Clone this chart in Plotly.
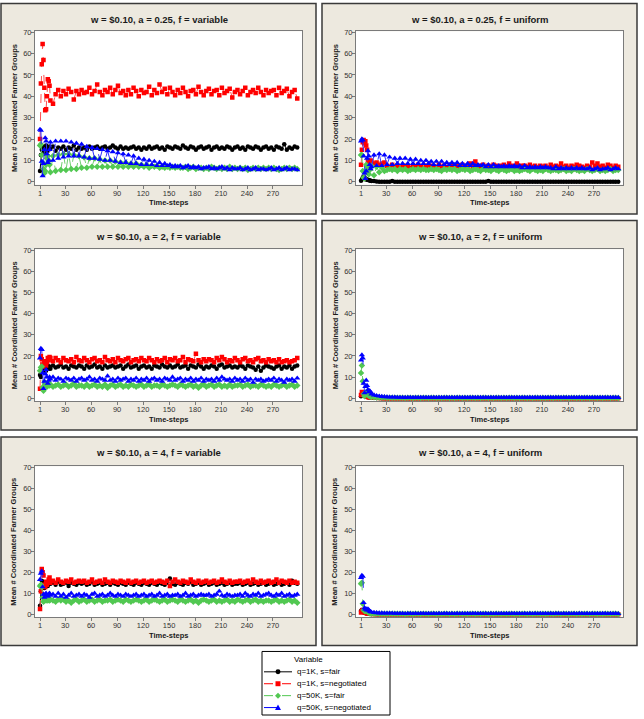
import plotly.graph_objects as go

# ---------------- data ----------------
# time-steps at which values were read (every step early on, then every 3rd step)
T = list(range(1, 13)) + list(range(13, 299, 3))

SERIES = ["q=1K, s=fair", "q=1K, s=negotiated", "q=50K, s=fair", "q=50K, s=negotiated"]

# Panel A: a = 0.25, f = variable
A_K = [5, 12.5, 15, 16.5, 14, 13, 15.5, 17, 16, 14.5, 15, 16.5,
       15.5, 16.5, 14.5, 16, 15.5, 16.5, 15, 16, 15.5, 17, 15, 16,
       15.5, 16, 15, 16.5, 15.5, 16, 16.5, 15.5, 16, 16.5, 15.5, 16,
       17, 16, 15.5, 16.5, 15.5, 16, 15.5, 16, 16.5, 15.5, 16, 15,
       16, 15.5, 16.5, 15.5, 16, 16.5, 15.5, 16, 15, 16.5, 16, 15.5,
       16.5, 16, 15.5, 17, 16, 15.5, 16.5, 16, 15, 16, 16.5, 15.5,
       16, 16.5, 15, 16, 16.5, 15.5, 16, 15.5, 16.5, 16, 15, 16,
       16.5, 15.5, 16, 15, 16.5, 16, 15.5, 16.5, 16, 15, 16, 16.5,
       15.5, 16, 15, 16.5, 16, 15.5, 17.5, 15, 16, 15.5, 16.5, 16]
A_R = [20, 46, 55, 64.5, 57, 44, 33.5, 34, 40, 48, 47, 45,
       38, 36.5, 41, 43, 40, 42.5, 41, 43.5, 42, 38.5, 42.5, 41,
       43, 41.5, 42, 44, 41, 42.5, 45.5, 42, 40.5, 43, 42, 44,
       41, 43, 45, 41.5, 42.5, 40.5, 43, 41, 44, 42.5, 40, 43,
       41.5, 42, 44.5, 40.5, 43, 41.5, 45.5, 42, 43.5, 41, 44, 42,
       40.5, 43, 41.5, 44, 42, 40, 42.5, 43, 41, 44.5, 42, 40.5,
       42.5, 43.5, 41, 42.5, 43, 40.5, 44, 41.5, 42.5, 43.5, 39.5, 42,
       43, 41, 42.5, 44, 40.5, 42, 43, 41.5, 44, 42, 40.5, 43,
       41.5, 42.5, 43, 40.5, 44, 41.5, 42.5, 43.5, 40, 42, 43, 39]
A_G = [17, 17.5, 12.5, 9, 6, 4, 5, 8, 11, 12, 10, 8,
       4.5, 12, 5, 12.5, 5.5, 13, 5.5, 13, 6, 12.5, 6, 12,
       6.5, 11.5, 6.5, 11, 7, 11, 7, 10.5, 7, 10, 7, 10,
       7, 9.5, 7, 9, 7, 9, 7, 8.5, 7, 8.5, 7, 8,
       7, 8, 6.5, 7.5, 7, 7.5, 6.5, 7, 6.5, 7, 6.5, 7,
       6.5, 7, 6.5, 6.5, 7, 6, 6.5, 7, 6, 6.5, 6.5, 6,
       6.5, 6, 7, 6.5, 6, 6.5, 6, 6.5, 6, 7, 6, 6.5,
       6, 6.5, 6, 6.5, 5.5, 6, 6.5, 6, 6.5, 6, 6.5, 6,
       6.5, 6, 6.5, 6, 5.5, 6, 6.5, 6, 6.5, 6, 6.5, 6]
A_B = [24.5, 24, 9.5, 2.8, 8.5, 15, 20.5, 19, 13, 9, 10, 15,
       18.5, 10, 19, 11, 19, 11.5, 19, 12, 18.5, 12, 18, 12,
       17.5, 11.5, 16.5, 11, 16, 11, 15.5, 10.5, 15, 10, 14.5, 10,
       14, 9.5, 13.5, 9, 13, 9, 12.5, 8.5, 12, 8.5, 11, 8,
       10.5, 8, 10, 8, 9.5, 7.5, 9, 7.5, 8.5, 7.5, 8, 7,
       7.5, 7, 7.5, 6.5, 7, 7.5, 6.5, 7, 6.5, 7, 6, 6.5,
       6.5, 7, 6, 6.5, 6, 6.5, 7, 6, 6.5, 5.5, 6.5, 6,
       6, 6.5, 5.5, 6, 6.5, 5.5, 6, 6.5, 5.5, 6, 6, 5.5,
       6, 6.5, 5.5, 6, 6.5, 5.5, 6, 6.5, 5.5, 6, 6, 5.5]

# Panel B: a = 0.25, f = uniform
B_K = [0.5, 1, 2, 2.5, 2, 1.5, 1, 1, 0.8, 0.8, 0.6, 0.5,
       0.4, 0.3, 0.1, 0, 0, 0, 0, 0, 0.3, 0, 0, 0,
       0, 0, 0, 0, 0, 0, 0, 0, 0, 0, 0, 0,
       0, 0, 0, 0, 0, 0, 0, 0, 0, 0, 0, 0,
       0, 0, 0, 0, 0, 0, 0, 0, 0, 0.3, 0, 0,
       0, 0, 0, 0, 0, 0, 0, 0, 0, 0, 0, 0,
       0, 0, 0, 0, 0, 0, 0, 0, 0, 0, 0, 0,
       0, 0, 0, 0, 0, 0, 0, 0, 0, 0, 0, 0,
       0, 0, 0, 0, 0, 0, 0, 0, 0, 0, 0, 0]
B_R = [8, 15, 18.5, 19.5, 18, 19, 17, 15, 10, 9, 9.5, 10,
       9.5, 8.5, 9, 8, 8.5, 9, 7.5, 7, 8, 7, 7.5, 6.5,
       7, 7.5, 7, 6.5, 7.5, 7, 8, 7, 6.5, 7.5, 7, 7.5,
       7, 7, 8, 7, 7.5, 6.5, 7, 8, 7, 7.5, 7, 8,
       7, 7.5, 8.5, 7, 9.5, 7.5, 7, 8, 7, 7.5, 7, 8,
       7.5, 7, 7.5, 8, 7, 8.5, 7.5, 7, 8.5, 7, 7.5, 7.5,
       7, 8, 7, 7.5, 6.5, 7.5, 7, 7.5, 6.5, 8, 7, 7.5,
       7, 8.5, 7, 7.5, 6.5, 7.5, 7, 8, 7.5, 7, 6.5, 7.5,
       7, 9, 7.5, 8.5, 7, 7.5, 6.5, 8, 7.5, 6.5, 7.5, 7]
B_G = [12.5, 12.5, 5, 2, 1.5, 5, 8, 7, 4, 3.5, 5.5, 7,
       7.5, 3, 7, 4.5, 6.5, 5, 5.5, 6, 5.5, 6, 5, 6,
       5.5, 6, 5, 5.5, 6, 5.5, 6, 5.5, 6, 5.5, 5.5, 6,
       5.5, 6, 5.5, 5, 6, 5.5, 6, 5.5, 6, 5, 5.5, 6,
       5.5, 6, 5, 5.5, 6, 5.5, 5, 6, 5.5, 5.5, 5, 6,
       5.5, 5, 6, 5.5, 5, 5.5, 6, 5, 5.5, 5, 5.5, 6,
       5.5, 5, 6, 5.5, 5, 5.5, 5, 6, 5.5, 5, 5.5, 5.5,
       5, 5.5, 6, 5, 5.5, 5, 6, 5.5, 5, 5.5, 5, 6,
       5.5, 5, 5.5, 6, 5, 5.5, 5, 5.5, 6, 5, 5.5, 5.5]
B_B = [19, 20, 19.5, 12, 4, 1.5, 5, 11, 14.5, 12, 8, 6,
       7, 12.5, 7.5, 13, 7.5, 12.5, 8, 11.5, 8, 11, 8.5, 11,
       8.5, 11, 8.5, 10.5, 8.5, 10.5, 8.5, 10, 8.5, 10, 8.5, 9.5,
       8, 9.5, 8, 9.5, 8, 9, 8, 9, 8, 9, 7.5, 8.5,
       7.5, 8.5, 7.5, 8.5, 7.5, 8, 7.5, 8, 7, 8, 7, 8,
       7, 7.5, 7, 7.5, 7, 7.5, 7, 7.5, 7, 7.5, 6.5, 7.5,
       6.5, 7, 6.5, 7, 6.5, 7, 6.5, 7, 6.5, 6.5, 6, 7,
       6, 6.5, 6, 6.5, 6, 6.5, 6, 6.5, 6, 6.5, 6, 6,
       6.5, 5.5, 6, 6.5, 5.5, 6, 6, 6.5, 5.5, 6, 6.5, 6]

# Panel C: a = 2, f = variable
C_K = [11, 10, 13, 14, 12.5, 14, 15, 13, 14.5, 15.5, 14, 15,
       14, 15.5, 14.5, 15, 16, 14.5, 15, 14, 15.5, 15, 14.5, 15.5,
       15, 14, 15.5, 14.5, 15, 16, 14.5, 15, 14, 15.5, 14.5, 15,
       15.5, 14.5, 15, 15.5, 14, 15, 16, 14.5, 15, 15.5, 14, 15,
       15.5, 14.5, 15, 14, 15.5, 15, 14.5, 16, 15, 14.5, 15.5, 14.5,
       15, 16, 14.5, 15, 15.5, 14, 15.5, 15, 14.5, 16, 15, 14,
       15, 14.5, 15.5, 15, 14, 15.5, 16, 14.5, 15, 15.5, 14.5, 15,
       14.5, 15.5, 15, 14, 15.5, 15, 14.5, 13.5, 15, 13, 14.5, 15.5,
       15, 14.5, 14, 15, 15.5, 14, 15, 14.5, 15.5, 14, 15, 15.5]
C_R = [4.5, 20, 18.5, 16, 15, 17.5, 16, 15.5, 17, 19, 18, 19.5,
       19, 17.5, 19, 18, 17, 19, 18, 17.5, 18.5, 17, 19.5, 18,
       17.5, 19, 18, 17, 18.5, 19, 17.5, 18, 17, 19.5, 18, 17.5,
       18.5, 17, 19, 18, 17.5, 18.5, 19, 17, 18, 18.5, 17.5, 19,
       18, 17.5, 19, 18, 17, 18.5, 17.5, 18, 19, 17, 18.5, 18,
       19, 17.5, 18, 19.5, 17, 18.5, 18, 17.5, 21, 18, 17, 18.5,
       17.5, 18.5, 18, 17, 19, 18, 19.5, 18.5, 17, 18, 17.5, 19,
       18, 17, 18.5, 19, 17.5, 18, 17, 18.5, 19, 17.5, 18, 17,
       18.5, 17.5, 18, 17, 18.5, 17, 17.5, 18, 17, 17.5, 18, 19]
C_G = [13, 14.5, 15, 5, 3.5, 6, 7.5, 6.5, 5.5, 6, 7, 6,
       6.5, 5.5, 6, 6.5, 5.5, 6, 6.5, 5.5, 6, 7, 5.5, 6,
       6, 5.5, 6.5, 5.5, 6, 6.5, 5.5, 6, 5.5, 6.5, 5, 6,
       6.5, 5.5, 6, 6.5, 5.5, 6, 5.5, 6.5, 6, 5.5, 6, 6.5,
       5.5, 6, 6.5, 5.5, 6, 6, 5.5, 6.5, 6, 5.5, 6, 6.5,
       6, 5.5, 6.5, 6, 5.5, 6, 6.5, 5.5, 6, 5, 6, 6.5,
       5.5, 6, 6.5, 5.5, 6, 6.5, 5.5, 6, 5.5, 6.5, 5.5, 6,
       6, 6.5, 5.5, 6, 6.5, 5.5, 6, 6, 5.5, 6.5, 6, 5.5,
       6, 5.5, 6.5, 6, 5.5, 6, 6.5, 5.5, 6, 6.5, 5.5, 6]
C_B = [19, 23.5, 23, 12, 4.5, 8, 11.5, 13.5, 10, 7, 8.5, 10,
       9, 10, 8.5, 9.5, 9, 8, 9.5, 9, 8.5, 9.5, 8, 9,
       9.5, 8.5, 9, 10, 8.5, 9, 8, 9.5, 9, 8.5, 10.5, 8.5,
       9, 8, 9.5, 8.5, 9, 9.5, 8, 9, 8.5, 9.5, 8, 9,
       8.5, 9.5, 8, 9, 9.5, 8.5, 9, 8, 9.5, 9, 8.5, 10,
       8.5, 9, 9.5, 8, 9, 8.5, 9.5, 8, 9, 8.5, 9.5, 8,
       9, 8.5, 9, 8, 9.5, 8.5, 10, 9, 8.5, 9, 8, 9.5,
       8.5, 9, 8, 9.5, 8.5, 9, 7.5, 9, 8.5, 9, 8, 8.5,
       9, 8.5, 9.5, 8, 9, 8.5, 7.5, 9, 8.5, 9, 8, 9.5]

# Panel D: a = 2, f = uniform
D_K = [1, 2, 2.5, 2, 1.5, 1, 1, 0.8, 0.6, 0.5, 0.5, 0.4,
       0.3, 0.2, 0.1, 0.1, 0, 0, 0, 0, 0, 0, 0, 0,
       0, 0, 0, 0, 0, 0, 0, 0, 0, 0, 0, 0,
       0, 0, 0, 0, 0, 0, 0, 0, 0, 0, 0, 0,
       0, 0, 0, 0, 0, 0, 0, 0, 0, 0, 0, 0,
       0, 0, 0, 0, 0, 0, 0, 0, 0, 0, 0, 0,
       0, 0, 0, 0, 0, 0, 0, 0, 0, 0, 0, 0,
       0, 0, 0, 0, 0, 0, 0, 0, 0, 0, 0, 0,
       0, 0, 0, 0, 0, 0, 0, 0, 0, 0, 0, 0]
D_R = [1.5, 3, 2.5, 2, 1.5, 1.2, 1, 0.8, 0.6, 0.5, 0.5, 0.4,
       0.3, 0.2, 0.2, 0.1, 0.1, 0, 0, 0, 0, 0, 0, 0,
       0, 0, 0, 0, 0, 0, 0, 0, 0, 0, 0, 0,
       0, 0, 0, 0, 0, 0, 0, 0, 0, 0, 0, 0,
       0, 0, 0, 0, 0, 0, 0, 0, 0, 0, 0, 0,
       0, 0, 0, 0, 0, 0, 0, 0, 0, 0, 0, 0,
       0, 0, 0, 0, 0, 0, 0, 0, 0, 0, 0, 0,
       0, 0, 0, 0, 0, 0, 0, 0, 0, 0, 0, 0,
       0, 0, 0, 0, 0, 0, 0, 0, 0, 0, 0, 0]
D_G = [12, 15.5, 8, 2, 1, 2.5, 3, 2, 1.5, 1.2, 1, 0.8,
       0.6, 0.5, 0.4, 0.3, 0.3, 0.3, 0.2, 0.2, 0.2, 0.2, 0.2, 0.2,
       0.2, 0.1, 0.2, 0.2, 0.1, 0.2, 0.2, 0.1, 0.2, 0.2, 0.1, 0.2,
       0.2, 0.1, 0.2, 0.1, 0.2, 0.2, 0.1, 0.2, 0.1, 0.2, 0.2, 0.1,
       0.2, 0.1, 0.2, 0.2, 0.1, 0.2, 0.1, 0.2, 0.2, 0.1, 0.2, 0.1,
       0.2, 0.2, 0.1, 0.2, 0.1, 0.2, 0.2, 0.1, 0.2, 0.1, 0.2, 0.2,
       0.1, 0.2, 0.1, 0.2, 0.2, 0.1, 0.2, 0.1, 0.2, 0.2, 0.1, 0.2,
       0.2, 0.1, 0.2, 0.2, 0.1, 0.2, 0.2, 0.1, 0.2, 0.1, 0.2, 0.2,
       0.1, 0.2, 0.2, 0.1, 0.2, 0.1, 0.2, 0.2, 0.1, 0.2, 0.2, 0.1]
D_B = [18, 20.5, 19, 7, 2.5, 5.5, 8.5, 6, 4, 3, 3.5, 3,
       2, 1.5, 1.2, 1, 0.8, 0.7, 0.6, 0.5, 0.5, 0.5, 0.4, 0.4,
       0.4, 0.3, 0.4, 0.4, 0.3, 0.4, 0.3, 0.4, 0.4, 0.3, 0.4, 0.3,
       0.4, 0.3, 0.4, 0.3, 0.4, 0.4, 0.3, 0.4, 0.3, 0.4, 0.3, 0.4,
       0.3, 0.4, 0.3, 0.4, 0.4, 0.3, 0.4, 0.3, 0.4, 0.3, 0.4, 0.3,
       0.4, 0.3, 0.4, 0.3, 0.4, 0.3, 0.4, 0.4, 0.3, 0.4, 0.3, 0.4,
       0.3, 0.4, 0.3, 0.4, 0.3, 0.4, 0.3, 0.4, 0.3, 0.4, 0.3, 0.4,
       0.4, 0.3, 0.4, 0.3, 0.4, 0.3, 0.4, 0.3, 0.4, 0.4, 0.3, 0.4,
       0.3, 0.4, 0.3, 0.4, 0.3, 0.4, 0.4, 0.3, 0.4, 0.3, 0.4, 0.3]

# Panel E: a = 4, f = variable
E_K = [4, 11, 16, 15.5, 13, 12.5, 14, 15, 14, 13.5, 15, 14.5,
       14.5, 15, 14, 15.5, 14, 14.5, 15, 13.5, 15, 14.5, 14, 15,
       14.5, 15, 14, 14.5, 15.5, 14, 14.5, 15, 14, 14.5, 15, 14,
       15, 14.5, 14, 15, 14.5, 14, 15, 14.5, 14, 15, 14.5, 14,
       15, 14.5, 14, 15, 14.5, 14, 15, 14.5, 14, 15, 17, 14.5,
       14, 15, 14.5, 14, 15, 14.5, 15.5, 14, 14.5, 15, 14, 14.5,
       15, 14, 14.5, 15, 14, 14.5, 15, 14, 14.5, 15, 14, 14.5,
       14.5, 15, 14, 14.5, 15, 14, 14.5, 15, 14, 14.5, 15, 14,
       14.5, 15, 14, 14.5, 15, 14, 14.5, 15, 14, 16, 15, 14.5]
E_R = [2.5, 11, 21.5, 20, 18.5, 14, 13, 15.5, 14, 15, 16.5, 17.5,
       15, 16, 15, 16.5, 15.5, 15, 16, 15.5, 16.5, 15, 15.5, 16,
       15.5, 16, 15, 15.5, 16.5, 15, 15.5, 16, 15, 16.5, 15.5, 15,
       16, 15.5, 15, 16, 15.5, 15, 16, 15, 15.5, 16, 15, 15.5,
       16, 15, 15.5, 16, 15, 15.5, 16, 15.5, 15, 16, 13.5, 15.5,
       16.5, 15.5, 15, 16, 15.5, 15, 16.5, 15.5, 15, 16, 15, 15.5,
       16, 15, 15.5, 16, 15, 15.5, 16.5, 15.5, 15, 16, 15, 15.5,
       15.5, 16, 15, 15.5, 16, 15, 16.5, 15.5, 15, 16, 15, 15.5,
       16, 15, 15.5, 16.5, 15, 16, 15.5, 15, 16, 15, 15.5, 15]
E_G = [13.5, 14, 13, 8, 6, 6.5, 7, 6.5, 7, 6.5, 7, 6.5,
       7, 6.5, 6, 7, 6.5, 7, 6, 6.5, 5.5, 6.5, 7, 6,
       6.5, 7, 6, 6.5, 7, 6, 6.5, 7, 6, 6.5, 6.5, 7,
       6, 6.5, 7, 6.5, 6, 7, 6.5, 6, 6.5, 7, 6.5, 6,
       6.5, 7, 6, 6.5, 7, 6.5, 6, 6.5, 7, 6, 6.5, 7,
       6.5, 6, 7, 6.5, 6, 6.5, 7, 6, 6.5, 5.5, 6.5, 7,
       6.5, 6, 6.5, 7, 6, 6.5, 6, 6.5, 7, 6, 6.5, 6,
       7, 6.5, 6, 6.5, 7, 6, 6.5, 7, 6, 6.5, 6, 6.5,
       6.5, 6, 6.5, 7, 6, 6.5, 6, 6.5, 7, 6, 6.5, 5.5]
E_B = [16.5, 19.5, 20.5, 13, 9.5, 8, 9.5, 10, 9, 8.5, 9.5, 10,
       9, 9.5, 8.5, 10, 8.5, 9.5, 8, 9, 10, 8.5, 9, 9.5,
       8.5, 9.5, 9, 8, 9.5, 10, 8.5, 9, 9.5, 8.5, 9, 10,
       9, 8.5, 9.5, 9, 8.5, 9.5, 9, 8.5, 9, 9.5, 8.5, 9,
       9.5, 8.5, 9, 9.5, 8.5, 9, 10, 8.5, 9, 9.5, 8.5, 9,
       9, 9.5, 8.5, 9, 10, 8.5, 9, 9.5, 8.5, 9, 9.5, 9,
       9, 9.5, 8.5, 9, 9.5, 11, 9, 8.5, 9.5, 9, 8.5, 9,
       9, 9.5, 8.5, 10, 9, 8.5, 9.5, 9, 10, 8.5, 9, 9.5,
       10, 9, 8.5, 9.5, 9, 10, 8.5, 9, 9.5, 8.5, 9, 9.5]

# Panel F: a = 4, f = uniform
F_K = [1.5, 2, 1.5, 1, 0.8, 0.6, 0.5, 0.4, 0.3, 0.3, 0.2, 0.2,
       0.1, 0.1, 0, 0, 0, 0, 0, 0, 0, 0, 0, 0,
       0, 0, 0, 0, 0, 0, 0, 0, 0, 0, 0, 0,
       0, 0, 0, 0, 0, 0, 0, 0, 0, 0, 0, 0,
       0, 0, 0, 0, 0, 0, 0, 0, 0, 0, 0, 0,
       0, 0, 0, 0, 0, 0, 0, 0, 0, 0, 0, 0,
       0, 0, 0, 0, 0, 0, 0, 0, 0, 0, 0, 0,
       0, 0, 0, 0, 0, 0, 0, 0, 0, 0, 0, 0,
       0, 0, 0, 0, 0, 0, 0, 0, 0, 0, 0, 0]
F_R = [0.8, 1.5, 2, 1.5, 1, 0.8, 0.6, 0.5, 0.4, 0.3, 0.3, 0.2,
       0.1, 0.1, 0, 0, 0, 0, 0, 0, 0, 0, 0, 0,
       0, 0, 0, 0, 0, 0, 0, 0, 0, 0, 0, 0,
       0, 0, 0, 0, 0, 0, 0, 0, 0, 0, 0, 0,
       0, 0, 0, 0, 0, 0, 0, 0, 0, 0, 0, 0,
       0, 0, 0, 0, 0, 0, 0, 0, 0, 0, 0, 0,
       0, 0, 0, 0, 0, 0, 0, 0, 0, 0, 0, 0,
       0, 0, 0, 0, 0, 0, 0, 0, 0, 0, 0, 0,
       0, 0, 0, 0, 0, 0, 0, 0, 0, 0, 0, 0]
F_G = [14.5, 15, 5, 2, 1.5, 1.5, 2, 1.5, 1, 0.8, 0.6, 0.5,
       0.4, 0.3, 0.3, 0.2, 0.2, 0.2, 0.2, 0.2, 0.2, 0.2, 0.2, 0.2,
       0.2, 0.1, 0.2, 0.2, 0.1, 0.2, 0.2, 0.1, 0.2, 0.2, 0.1, 0.2,
       0.2, 0.1, 0.2, 0.1, 0.2, 0.2, 0.1, 0.2, 0.1, 0.2, 0.2, 0.1,
       0.2, 0.1, 0.2, 0.2, 0.1, 0.2, 0.1, 0.2, 0.2, 0.1, 0.2, 0.1,
       0.2, 0.2, 0.1, 0.2, 0.1, 0.2, 0.2, 0.1, 0.2, 0.1, 0.2, 0.2,
       0.1, 0.2, 0.1, 0.2, 0.2, 0.1, 0.2, 0.1, 0.2, 0.2, 0.1, 0.2,
       0.2, 0.1, 0.2, 0.2, 0.1, 0.2, 0.2, 0.1, 0.2, 0.1, 0.2, 0.2,
       0.1, 0.2, 0.2, 0.1, 0.2, 0.1, 0.2, 0.2, 0.1, 0.2, 0.2, 0.1]
F_B = [17.5, 18.5, 18, 5.5, 3, 2.5, 2.5, 2, 2.5, 2, 1.5, 1.2,
       1, 0.8, 0.7, 0.6, 0.6, 0.5, 0.5, 0.5, 0.5, 0.4, 0.4, 0.4,
       0.4, 0.3, 0.4, 0.4, 0.3, 0.4, 0.3, 0.4, 0.4, 0.3, 0.4, 0.3,
       0.4, 0.3, 0.4, 0.3, 0.4, 0.4, 0.3, 0.4, 0.3, 0.4, 0.3, 0.4,
       0.3, 0.4, 0.3, 0.4, 0.4, 0.3, 0.4, 0.3, 0.4, 0.3, 0.4, 0.3,
       0.4, 0.3, 0.4, 0.3, 0.4, 0.3, 0.4, 0.4, 0.3, 0.4, 0.3, 0.4,
       0.3, 0.4, 0.3, 0.4, 0.3, 0.4, 0.3, 0.4, 0.3, 0.4, 0.3, 0.4,
       0.4, 0.3, 0.4, 0.3, 0.4, 0.3, 0.4, 0.3, 0.4, 0.4, 0.3, 0.4,
       0.3, 0.4, 0.3, 0.4, 0.3, 0.4, 0.4, 0.3, 0.4, 0.3, 0.4, 0.3]

PANELS = [
    ("w = $0.10, a = 0.25, f = variable", 0, 0, [A_K, A_R, A_G, A_B]),
    ("w = $0.10, a = 0.25, f = uniform", 0, 1, [B_K, B_R, B_G, B_B]),
    ("w = $0.10, a = 2, f = variable", 1, 0, [C_K, C_R, C_G, C_B]),
    ("w = $0.10, a = 2, f = uniform", 1, 1, [D_K, D_R, D_G, D_B]),
    ("w = $0.10, a = 4, f = variable", 2, 0, [E_K, E_R, E_G, E_B]),
    ("w = $0.10, a = 4, f = uniform", 2, 1, [F_K, F_R, F_G, F_B]),
]

X_TICKS = [1, 30, 60, 90, 120, 150, 180, 210, 240, 270]
Y_TICKS = [0, 10, 20, 30, 40, 50, 60, 70]
Y_TITLE = "Mean # Coordinated Farmer Groups"
X_TITLE = "Time-steps"
LEGEND_TITLE = "Variable"

for _, _, _, d in PANELS:
    for s in d:
        assert len(s) == len(T), (len(s), len(T))

# ---------------- styling ----------------
W, H = 644, 719
FONT = "Liberation Sans, Arial, sans-serif"
BEIGE = "#EDE9DF"
COLORS = ["#000000", "#FF0000", "#52C852", "#0000FF"]
LINECOLORS = ["#000000", "#FF5050", "#70D070", "#3030FF"]
SYMBOLS = ["circle", "square", "diamond", "triangle-up"]
DASHES = ["solid", "dash", "dash", "longdash"]
MSIZE = [4.5, 4.5, 5, 5.5]

FRAME_L = [1, 322]
FRAME_W = 315
ROW_FRAME = [(0.5, 212.5), (219, 430), (437, 647)]
ROW_PLOT = [(28.5, 183), (248, 401), (466.5, 618.5)]
PX0, PX1 = 34, 301


def fx(x):
    return x / W


def fy(y):
    return 1 - y / H


fig = go.Figure()
shapes = []
annotations = []
layout_axes = {}

for i, (title, r, c, data) in enumerate(PANELS):
    n = i + 1
    L = FRAME_L[c]
    ft, fb = ROW_FRAME[r]
    pt, pb = ROW_PLOT[r]
    shapes.append(dict(type="rect", xref="paper", yref="paper", layer="below",
                       x0=fx(L), x1=fx(L + FRAME_W), y0=fy(fb), y1=fy(ft),
                       fillcolor=BEIGE, line=dict(color="#3a3a3a", width=1.5)))
    shapes.append(dict(type="rect", xref="paper", yref="paper", layer="below",
                       x0=fx(L + PX0), x1=fx(L + PX1), y0=fy(pb), y1=fy(pt),
                       fillcolor="white", line=dict(width=0)))
    xa = "xaxis" if n == 1 else f"xaxis{n}"
    ya = "yaxis" if n == 1 else f"yaxis{n}"
    xr = "x" if n == 1 else f"x{n}"
    yr = "y" if n == 1 else f"y{n}"
    axis_common = dict(showline=True, mirror=True, linecolor="#7a7a7a", linewidth=1,
                       ticks="outside", ticklen=3, tickcolor="#7a7a7a", tickwidth=1,
                       showgrid=False, zeroline=False, ticklabelstandoff=-2,
                       tickfont=dict(family=FONT, size=7.5, color="#333333"))
    layout_axes[xa] = dict(axis_common, domain=[fx(L + PX0), fx(L + PX1)], anchor=yr,
                           range=[-4.8, 303.5], tickvals=X_TICKS)
    layout_axes[ya] = dict(axis_common, domain=[fy(pb), fy(pt)], anchor=xr,
                           range=[-1.4, 70.45], tickvals=Y_TICKS)
    for s in range(4):
        fig.add_trace(go.Scatter(
            x=T, y=data[s], xaxis=xr, yaxis=yr, mode="lines+markers",
            name=SERIES[s], showlegend=False,
            line=dict(color=LINECOLORS[s], width=1, dash=DASHES[s]),
            marker=dict(color=COLORS[s], symbol=SYMBOLS[s], size=MSIZE[s],
                        line=dict(width=0))))
    annotations.append(dict(text=f"<b>{title}</b>", xref="paper", yref="paper",
                            x=fx(L + FRAME_W / 2), y=fy(ft + 16), showarrow=False,
                            xanchor="center", yanchor="middle",
                            font=dict(family=FONT, size=9.5, color="#1a1a1a")))
    annotations.append(dict(text=f"<b>{Y_TITLE}</b>", xref="paper", yref="paper",
                            x=fx(L + 13), y=fy((pt + pb) / 2), showarrow=False,
                            textangle=-90, xanchor="center", yanchor="middle",
                            font=dict(family=FONT, size=7.5, color="#1a1a1a")))
    annotations.append(dict(text=f"<b>{X_TITLE}</b>", xref="paper", yref="paper",
                            x=fx(L + (PX0 + PX1) / 2), y=fy(pb + 18), showarrow=False,
                            xanchor="center", yanchor="middle",
                            font=dict(family=FONT, size=7.5, color="#1a1a1a")))

# ---------------- legend (drawn manually) ----------------
LX0, LX1, LY0, LY1 = 262, 390, 653, 717
shapes.append(dict(type="rect", xref="paper", yref="paper",
                   x0=fx(LX0), x1=fx(LX1), y0=fy(LY1), y1=fy(LY0),
                   fillcolor="white", line=dict(color="#000000", width=1)))
annotations.append(dict(text=LEGEND_TITLE, xref="paper", yref="paper",
                        x=fx(308), y=fy(661.5), showarrow=False,
                        xanchor="center", yanchor="middle",
                        font=dict(family=FONT, size=8, color="#000000")))
LEG_Y = [673.5, 685.5, 697.5, 709.5]
for s in range(4):
    y = LEG_Y[s]
    shapes.append(dict(type="line", xref="paper", yref="paper",
                       x0=fx(264), x1=fx(292), y0=fy(y), y1=fy(y),
                       line=dict(color=COLORS[s], width=1, dash=DASHES[s])))
    cx = 278
    if s == 0:
        shapes.append(dict(type="circle", xref="paper", yref="paper",
                           x0=fx(cx - 2.5), x1=fx(cx + 2.5), y0=fy(y + 2.5), y1=fy(y - 2.5),
                           fillcolor=COLORS[s], line=dict(width=0)))
    elif s == 1:
        shapes.append(dict(type="rect", xref="paper", yref="paper",
                           x0=fx(cx - 2.5), x1=fx(cx + 2.5), y0=fy(y + 2.5), y1=fy(y - 2.5),
                           fillcolor=COLORS[s], line=dict(width=0)))
    elif s == 2:
        path = (f"M {fx(cx)} {fy(y - 3)} L {fx(cx + 3)} {fy(y)} "
                f"L {fx(cx)} {fy(y + 3)} L {fx(cx - 3)} {fy(y)} Z")
        shapes.append(dict(type="path", xref="paper", yref="paper", path=path,
                           fillcolor=COLORS[s], line=dict(width=0)))
    else:
        path = (f"M {fx(cx)} {fy(y - 3)} L {fx(cx + 3)} {fy(y + 2.5)} "
                f"L {fx(cx - 3)} {fy(y + 2.5)} Z")
        shapes.append(dict(type="path", xref="paper", yref="paper", path=path,
                           fillcolor=COLORS[s], line=dict(width=0)))
    annotations.append(dict(text=SERIES[s], xref="paper", yref="paper",
                            x=fx(295), y=fy(y), showarrow=False,
                            xanchor="left", yanchor="middle",
                            font=dict(family=FONT, size=8, color="#000000")))

fig.update_layout(
    width=W, height=H, margin=dict(l=0, r=0, t=0, b=0),
    paper_bgcolor="white", plot_bgcolor="rgba(0,0,0,0)",
    showlegend=False, shapes=shapes, annotations=annotations,
    **layout_axes)

fig.write_html("out.html")
